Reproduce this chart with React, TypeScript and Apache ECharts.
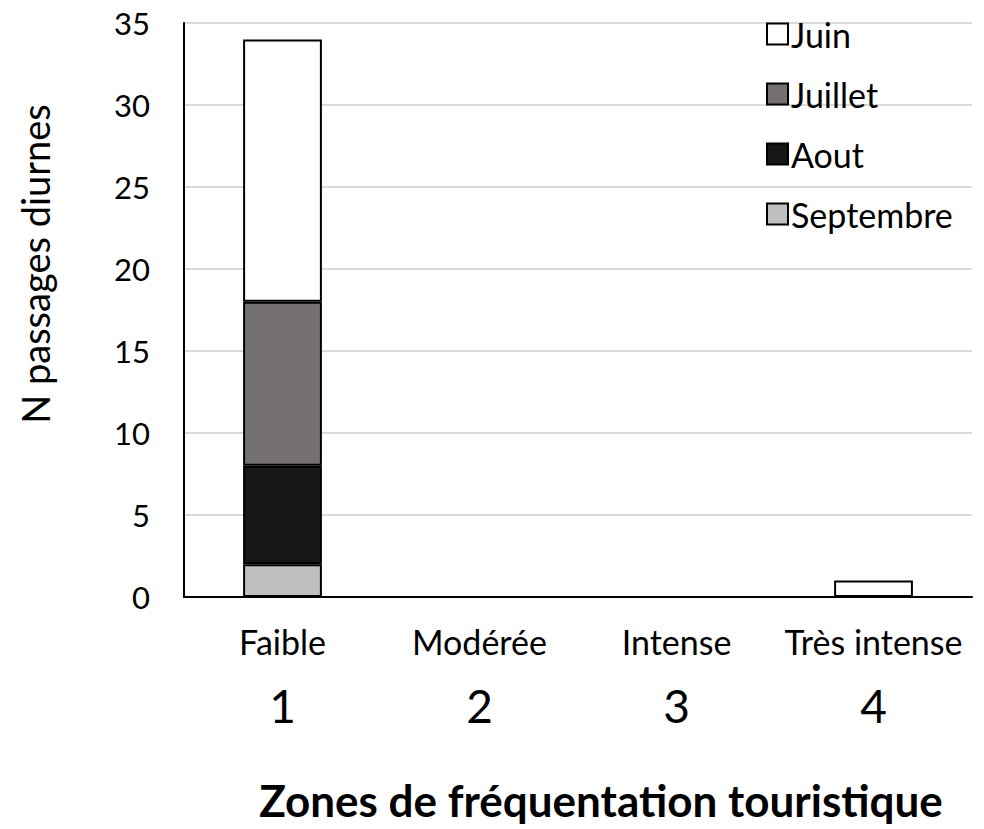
import React, { useEffect, useRef } from "react";
import * as echarts from "echarts";

const categories = ["Faible", "Modérée", "Intense", "Très intense"];
const zoneNumbers = ["1", "2", "3", "4"];
const seriesNames = ["Septembre", "Aout", "Juillet", "Juin"];
const septembre: (number | string)[] = [2, "-", "-", "-"];
const aout: (number | string)[] = [6, "-", "-", "-"];
const juillet: (number | string)[] = [10, "-", "-", "-"];
const juin: (number | string)[] = [16, "-", "-", 1];
const seriesColors = ["#bfbfbf", "#171717", "#767171", "#ffffff"];
const legendOrder = ["Juin", "Juillet", "Aout", "Septembre"];
const yTicks = { min: 0, max: 35, interval: 5 };

const FONT = "Lato, 'Open Sans', sans-serif";

export default function App() {
  const ref = useRef<HTMLDivElement>(null);
  useEffect(() => {
    if (!ref.current) return;
    const chart = echarts.init(ref.current, null, { renderer: "svg" });
    const dataArr = [septembre, aout, juillet, juin];
    chart.setOption({
      animation: false,
      backgroundColor: "#ffffff",
      textStyle: { fontFamily: FONT },
      grid: { left: 184, right: 12, top: 23, bottom: 232, containLabel: false, outerBoundsMode: "none" },
      legend: {
        data: legendOrder,
        orient: "vertical",
        left: 761,
        top: 12,
        itemWidth: 21,
        itemHeight: 21,
        itemGap: 26,
        icon: "rect",
        textStyle: { fontSize: 34, color: "#000", fontFamily: FONT, padding: [0, 0, 0, -2] },
      },
      xAxis: {
        type: "category",
        data: categories,
        axisLine: { lineStyle: { color: "#000", width: 2 } },
        axisTick: { show: false },
        axisLabel: {
          margin: 12,
          interval: 0,
          formatter: (v: string, i: number) => `{a|${v}}\n{b|${zoneNumbers[i]}}`,
          rich: {
            a: { fontSize: 34, lineHeight: 64, color: "#000", fontFamily: FONT },
            b: { fontSize: 46, lineHeight: 64, color: "#000", fontFamily: FONT },
          },
        },
        name: "Zones de fréquentation touristique",
        nameLocation: "middle",
        nameGap: 181,
        nameTextStyle: { fontSize: 44, fontWeight: "bold", color: "#000", fontFamily: FONT, padding: [0, 0, 0, 46] },
      },
      yAxis: {
        type: "value",
        min: yTicks.min,
        max: yTicks.max,
        interval: yTicks.interval,
        axisLine: { show: true, lineStyle: { color: "#000", width: 2 } },
        axisTick: { show: false },
        axisLabel: { fontSize: 31, color: "#000", margin: 34, fontFamily: FONT },
        splitLine: { lineStyle: { color: "#d9d9d9", width: 2 } },
        name: "N passages diurnes",
        nameLocation: "middle",
        nameGap: 130,
        nameTextStyle: { fontSize: 38, color: "#000", fontFamily: FONT, padding: [0, 0, 0, 92] },
      },
      series: seriesNames.map((name, i) => ({
        name,
        type: "bar",
        stack: "total",
        barWidth: "40%",
        data: dataArr[i],
        itemStyle: { color: seriesColors[i], borderColor: "#000", borderWidth: 2 },
      })),
    });
    return () => chart.dispose();
  }, []);
  return <div ref={ref} style={{ width: 984, height: 829, position: "absolute", left: 0, top: 0 }} />;
}
